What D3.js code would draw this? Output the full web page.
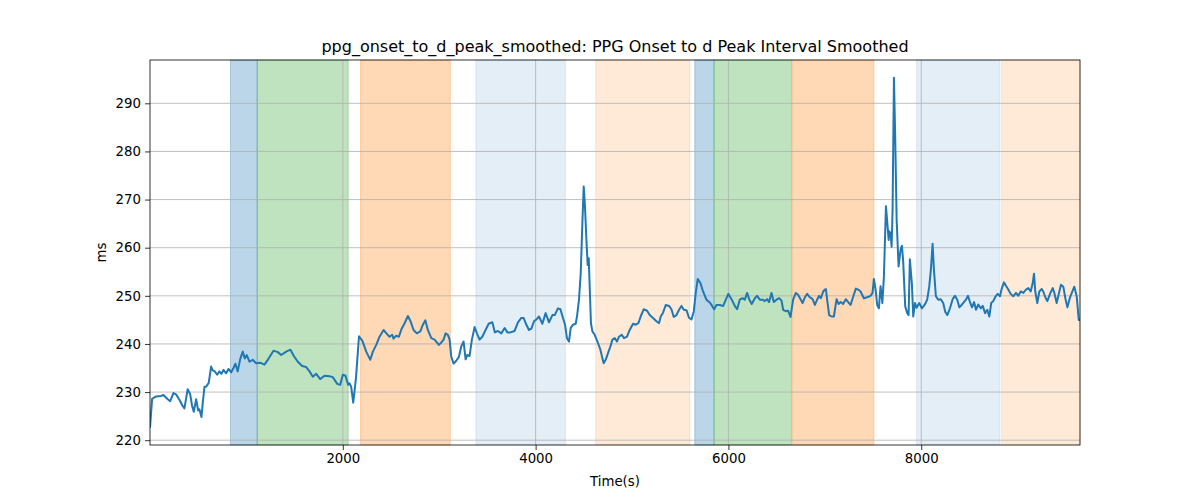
<!DOCTYPE html>
<html>
<head>
<meta charset="utf-8">
<script src="https://cdn.jsdelivr.net/npm/d3@7"></script>
<style>
  body { margin: 0; background: #fff; }
  svg { font-family: "DejaVu Sans", sans-serif; }
</style>
</head>
<body>
<svg width="1200" height="500"></svg>
<script>
// smoothed PPG onset -> d peak interval (ms) against time (s)
var times = [0,22,63,115,139,184,209,243,271,305,339,357,391,416,437,454,479,499,513,534,547,565,582,609,634,651,672,697,720,741,762,790,814,842,866,886,910,935,962,983,1004,1032,1066,1101,1143,1187,1222,1281,1326,1361,1413,1457,1492,1533,1579,1620,1655,1689,1724,1766,1810,1862,1896,1942,1973,2000,2028,2056,2070,2087,2108,2137,2168,2202,2243,2285,2312,2347,2381,2423,2457,2485,2513,2526,2554,2582,2609,2641,2675,2703,2734,2768,2804,2831,2856,2882,2918,2952,2997,3022,3046,3066,3090,3108,3125,3149,3177,3204,3229,3253,3274,3291,3315,3339,3367,3391,3419,3447,3481,3513,3551,3578,3609,3644,3679,3707,3738,3782,3817,3852,3876,3897,3931,3956,3983,4014,4035,4070,4104,4139,4174,4198,4232,4257,4284,4305,4325,4346,4364,4388,4416,4429,4450,4468,4485,4499,4512,4527,4540,4551,4561,4574,4589,4613,4641,4672,4693,4706,4727,4751,4776,4797,4821,4844,4865,4893,4917,4948,4976,5011,5039,5066,5090,5121,5156,5184,5218,5253,5280,5298,5322,5350,5384,5409,5433,5461,5488,5513,5537,5565,5592,5617,5641,5661,5682,5710,5737,5772,5807,5831,5852,5876,5911,5946,5973,5999,6032,6066,6090,6118,6146,6170,6194,6215,6242,6274,6297,6326,6354,6377,6401,6422,6447,6471,6499,6526,6551,6568,6595,6619,6644,6671,6699,6723,6748,6769,6793,6817,6845,6873,6897,6920,6941,6959,6983,7000,7011,7024,7045,7070,7094,7122,7143,7166,7190,7218,7242,7267,7294,7322,7346,7371,7405,7439,7475,7495,7509,7526,7543,7561,7578,7597,7613,7634,7647,7662,7668,7682,7693,7703,7717,7730,7745,7765,7786,7800,7813,7834,7855,7869,7882,7903,7917,7935,7952,7979,8007,8038,8062,8083,8100,8118,8132,8152,8176,8201,8228,8249,8270,8298,8326,8350,8374,8395,8419,8443,8464,8485,8506,8527,8548,8568,8592,8617,8638,8662,8685,8706,8726,8747,8772,8793,8817,8834,8858,8879,8903,8928,8955,8983,9007,9032,9059,9087,9111,9136,9156,9170,9183,9204,9225,9250,9266,9287,9308,9336,9364,9381,9405,9429,9450,9474,9495,9516,9544,9568,9588,9613,9634,9647];
var values = [222.6,228.6,229.1,229.2,229.4,228.5,228.1,229.8,229.5,228.4,227.1,226.6,230.6,229.6,227.1,225.9,228.5,226.2,226.4,224.8,227.7,231.1,231.1,231.9,235.3,234.5,234.3,233.6,234.3,233.8,234.6,233.9,234.8,234.1,235.0,235.9,234.3,236.8,238.4,237.0,237.7,236.3,236.7,236.0,236.1,235.7,236.7,238.6,238.3,237.7,238.4,238.8,237.5,236.3,235.4,235.2,234.3,233.2,233.8,232.7,233.4,233.3,233.1,231.7,231.5,233.6,233.4,231.5,231.8,231.1,227.8,233.0,241.6,240.7,238.4,236.7,238.4,239.8,241.5,242.9,242.1,241.5,241.9,241.1,241.7,241.5,243.1,244.3,245.8,244.7,242.9,242.2,242.6,244.0,244.9,242.9,241.2,240.9,239.8,240.3,240.9,242.2,241.9,240.9,237.4,235.9,236.5,237.3,239.5,240.5,236.8,237.7,237.5,240.9,243.5,242.2,240.9,241.5,242.9,244.2,244.5,242.4,242.7,242.2,243.3,242.4,242.4,242.7,244.5,245.4,245.4,244.3,242.9,243.2,244.7,245.2,245.7,244.2,246.4,244.5,246.0,246.0,247.4,247.2,245.4,244.0,241.2,240.5,243.3,244.0,244.2,245.7,249.2,254.7,265.1,272.7,268.6,261.6,256.4,257.8,251.9,244.3,242.6,241.9,240.5,238.8,237.0,236.0,236.7,238.1,239.5,240.9,241.2,240.5,241.5,241.9,241.2,241.5,242.9,244.2,244.0,244.3,245.7,247.2,246.9,246.0,245.4,244.7,244.3,245.7,246.5,248.1,247.9,247.2,245.6,246.0,247.1,247.9,247.1,247.0,245.4,245.1,246.8,250.6,253.5,252.6,250.9,249.2,248.6,247.9,247.2,248.1,248.1,247.9,249.2,250.4,249.3,247.9,247.2,249.2,249.5,249.2,250.6,249.3,248.3,249.5,250.0,249.2,249.2,248.9,249.3,248.7,250.6,248.7,249.2,249.5,249.0,247.1,246.8,246.9,245.6,249.2,250.6,250.2,249.3,248.5,249.7,250.4,249.7,249.3,248.1,249.2,250.0,249.5,250.9,251.3,251.4,249.2,246.0,245.7,245.7,249.3,248.3,248.7,248.3,249.3,248.7,248.1,249.8,251.5,251.3,250.9,249.5,249.7,250.0,250.6,253.5,251.4,248.1,247.4,252.0,248.5,254.0,268.6,265.5,261.6,263.4,263.0,260.2,267.9,295.3,283.1,265.8,256.1,259.6,260.4,257.1,247.8,246.4,246.0,257.6,252.6,245.7,248.5,247.5,248.5,247.4,248.2,249.2,251.9,255.4,260.8,255.4,249.9,249.2,249.3,248.5,246.7,246.0,247.4,249.3,250.0,249.2,247.6,248.1,248.7,249.2,250.0,248.7,247.6,248.7,247.1,248.2,247.4,247.9,246.4,247.1,245.7,248.5,248.9,249.9,250.4,249.9,251.4,252.8,252.1,251.3,250.4,249.9,250.6,250.0,250.9,250.6,251.3,251.6,250.9,252.6,254.6,250.9,248.5,250.9,251.4,250.9,249.7,248.9,250.4,251.6,250.6,248.5,250.6,252.3,251.9,249.5,247.6,249.7,250.9,251.9,249.9,245.0,245.0];

// shaded phases
var bandStarts = [835, 1112, 2184, 3381, 4623, 5651, 5851, 6665, 7952, 8834];
var bandEnds   = [1112, 2056, 3115, 4309, 5599, 5851, 6655, 7509, 8817, 9647];
var bandKinds  = ["blue", "green", "orange", "blueLight", "orangeLight", "blue", "green", "orange", "blueLight", "orangeLight"];

var xTicks = [2000, 4000, 6000, 8000];
var yTicks = [220, 230, 240, 250, 260, 270, 280, 290];

var kindColor = {
  blue: "rgba(31,119,180,0.3)",
  green: "rgba(44,160,44,0.3)",
  orange: "rgba(255,127,14,0.3)",
  blueLight: "rgba(31,119,180,0.12)",
  orangeLight: "rgba(255,127,14,0.16)"
};

var svg = d3.select("svg"),
    margin = {left: 150, right: 120, top: 60, bottom: 55},
    width = +svg.attr("width") - margin.left - margin.right,
    height = +svg.attr("height") - margin.top - margin.bottom;

var x = d3.scaleLinear().domain([times[0], times[times.length - 1]]).range([0, width]);
var y = d3.scaleLinear().domain([219.0, 299.0]).range([height, 0]);

var g = svg.append("g").attr("transform", "translate(" + margin.left + "," + margin.top + ")");

g.append("defs").append("clipPath").attr("id", "clip")
  .append("rect").attr("width", width).attr("height", height);

g.selectAll(".band")
  .data(bandStarts)
  .enter().append("rect")
    .attr("class", "band")
    .attr("x", function(d) { return x(d); })
    .attr("y", 0)
    .attr("width", function(d, i) { return x(bandEnds[i]) - x(d); })
    .attr("height", height)
    .attr("fill", function(d, i) { return kindColor[bandKinds[i]]; })
    .attr("stroke", function(d, i) { return kindColor[bandKinds[i]]; })
    .attr("stroke-width", 1);

// grid
g.append("g")
  .selectAll("line").data(xTicks).enter().append("line")
    .attr("x1", function(d) { return x(d); }).attr("x2", function(d) { return x(d); })
    .attr("y1", 0).attr("y2", height)
    .attr("stroke", "#b0b0b0").attr("stroke-width", 0.8);
g.append("g")
  .selectAll("line").data(yTicks).enter().append("line")
    .attr("x1", 0).attr("x2", width)
    .attr("y1", function(d) { return y(d); }).attr("y2", function(d) { return y(d); })
    .attr("stroke", "#b0b0b0").attr("stroke-width", 0.8);

var line = d3.line()
    .x(function(d, i) { return x(times[i]); })
    .y(function(d) { return y(d); });

g.append("path")
  .datum(values)
  .attr("clip-path", "url(#clip)")
  .attr("fill", "none")
  .attr("stroke", "#1f77b4")
  .attr("stroke-width", 2)
  .attr("stroke-linejoin", "round")
  .attr("d", line);

// axes
var xAxis = g.append("g")
  .attr("transform", "translate(0," + height + ")")
  .call(d3.axisBottom(x).tickValues(xTicks).tickFormat(d3.format("d")).tickSizeOuter(0).tickSize(5).tickPadding(4));
var yAxis = g.append("g")
  .call(d3.axisLeft(y).tickValues(yTicks).tickFormat(d3.format("d")).tickSizeOuter(0).tickSize(5).tickPadding(4));

[xAxis, yAxis].forEach(function(a) {
  a.select(".domain").remove();
  a.selectAll("line").attr("stroke", "#000").attr("stroke-width", 0.8);
  a.selectAll("text").attr("fill", "#000").style("font-size", "13.3px").style("font-family", "DejaVu Sans");
});

g.append("rect")
  .attr("width", width).attr("height", height)
  .attr("fill", "none").attr("stroke", "#000").attr("stroke-width", 0.8);

svg.append("text")
  .attr("x", margin.left + width / 2).attr("y", 52)
  .attr("text-anchor", "middle")
  .style("font-size", "16px")
  .text("ppg_onset_to_d_peak_smoothed: PPG Onset to d Peak Interval Smoothed");

svg.append("text")
  .attr("x", margin.left + width / 2).attr("y", 486)
  .attr("text-anchor", "middle")
  .style("font-size", "13.3px")
  .text("Time(s)");

svg.append("text")
  .attr("transform", "translate(106," + (margin.top + height / 2) + ") rotate(-90)")
  .attr("text-anchor", "middle")
  .style("font-size", "13.3px")
  .text("ms");
</script>
</body>
</html>
